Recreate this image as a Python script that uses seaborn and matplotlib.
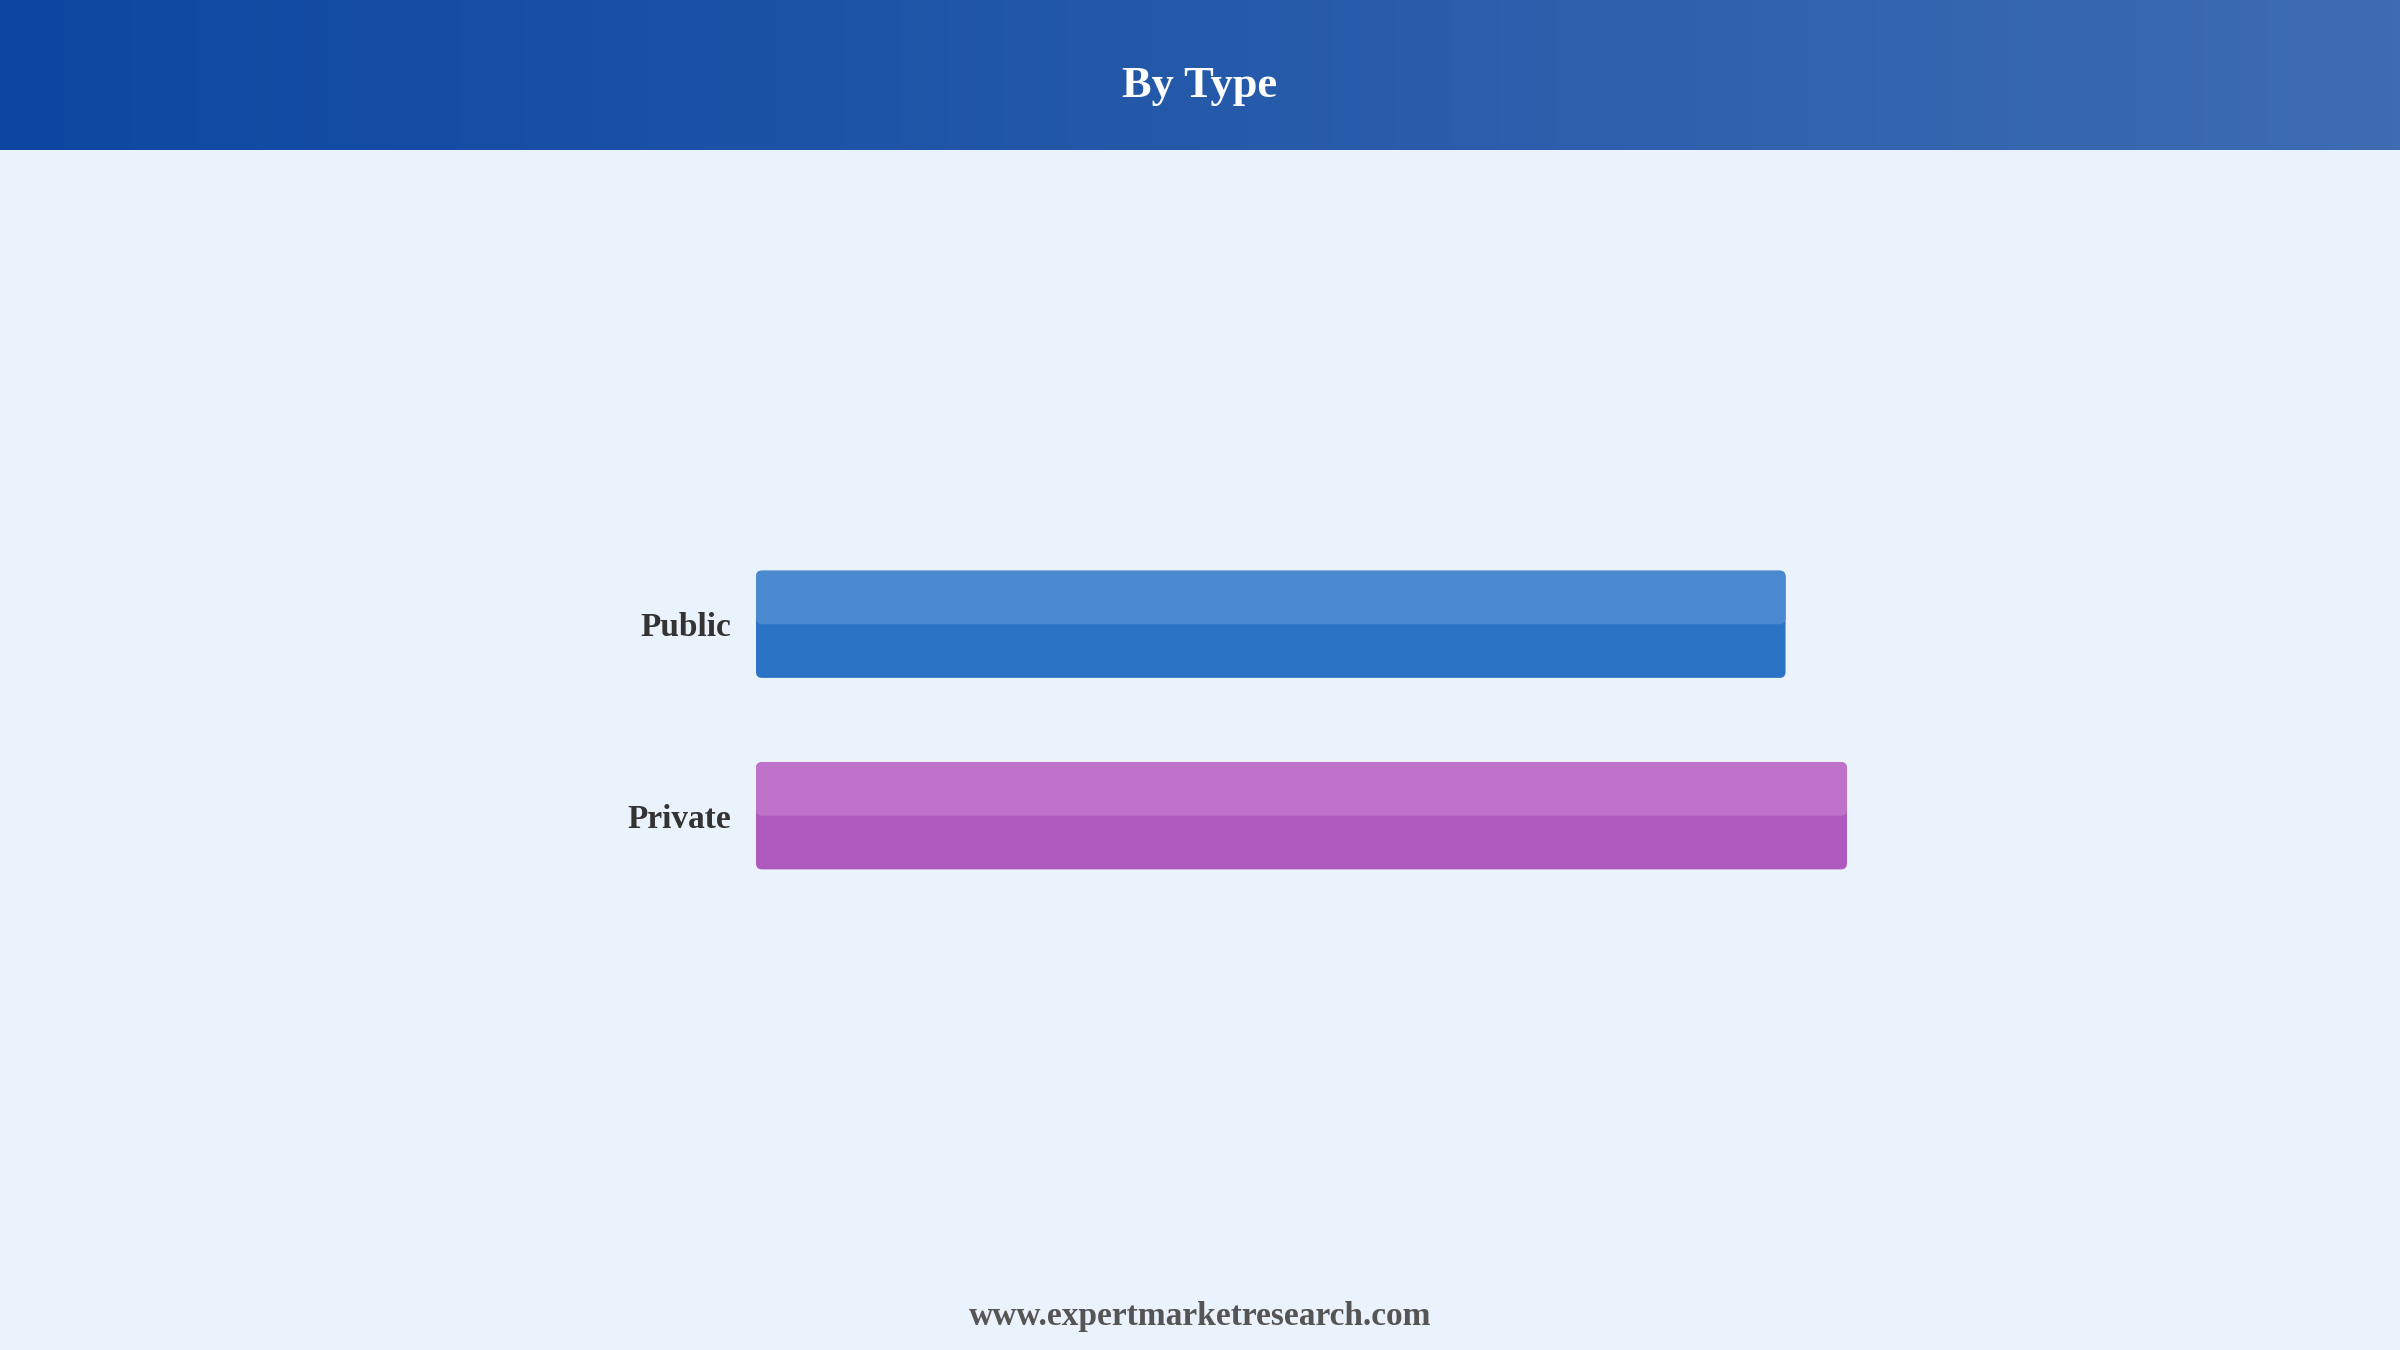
import numpy as np
import matplotlib
matplotlib.use("Agg")
import matplotlib.pyplot as plt
import seaborn as sns
from matplotlib.patches import FancyBboxPatch
from matplotlib.colors import LinearSegmentedColormap

# Dados
categorias = ["Public", "Private"]
valores = [48.6, 51.5]
cores_base = ["#2b74c5", "#ae59be"]
cores_topo = ["#4a88cf", "#bf72ca"]
titulo = "By Type"
rodape = "www.expertmarketresearch.com"

sns.set_theme(style="white")
plt.rcParams["font.family"] = ["Liberation Serif", "DejaVu Serif"]

fundo = "#eaf2fb"
fig = plt.figure(figsize=(24, 13.5), dpi=100, facecolor=fundo)

# Faixa do título com degradê
ax_h = fig.add_axes([0, 1 - 150 / 1350, 1, 150 / 1350])
cmap = LinearSegmentedColormap.from_list("hdr", ["#0d47a1", "#3d6cb3"])
ax_h.imshow(np.linspace(0, 1, 256)[None, :], aspect="auto", cmap=cmap,
            extent=[0, 1, 0, 1])
ax_h.set_axis_off()
ax_h.text(0.5, 0.43, titulo, ha="center", va="center", color="white",
          fontsize=32, fontweight="bold", transform=ax_h.transAxes)

# Gráfico de barras
ax = fig.add_axes([0.315, 0.3248, 0.8446 - 0.315, 0.2837])
ax.set_facecolor(fundo)
sns.barplot(x=valores, y=categorias, hue=categorias, palette=cores_base,
            orient="h", width=0.56, legend=False, ax=ax)
ax.set_xlim(0, 60)
ax.set_ylim(1.5, -0.5)

# troca os retângulos por barras arredondadas em dois tons
fig.canvas.draw()
px_x = 60 / ax.bbox.width
px_y = 2 / ax.bbox.height
aspecto = px_y / px_x
raio = 6 * px_x
for i, p in enumerate(list(ax.patches)):
    x, y, w, h = p.get_x(), p.get_y(), p.get_width(), p.get_height()
    p.remove()
    ax.add_patch(FancyBboxPatch((x, y), w, h,
                                boxstyle=f"round,pad=0,rounding_size={raio}",
                                mutation_aspect=aspecto, fc=cores_base[i],
                                ec="none", zorder=2))
    ax.add_patch(FancyBboxPatch((x, y), w, h / 2,
                                boxstyle=f"round,pad=0,rounding_size={raio}",
                                mutation_aspect=aspecto, fc=cores_topo[i],
                                ec="none", zorder=3))

sns.despine(ax=ax, left=True, bottom=True)
ax.set_xticks([])
ax.set_xlabel("")
ax.set_ylabel("")
ax.tick_params(axis="y", length=0, pad=18)
for t in ax.get_yticklabels():
    t.set_fontsize(24)
    t.set_fontweight("bold")
    t.set_color("#333333")

fig.text(0.5, 1 - 1316 / 1350, rodape, ha="center", va="center",
         fontsize=24, fontweight="bold", color="#555555")

fig.savefig("out.png", dpi=100, facecolor=fundo)
plt.close()
